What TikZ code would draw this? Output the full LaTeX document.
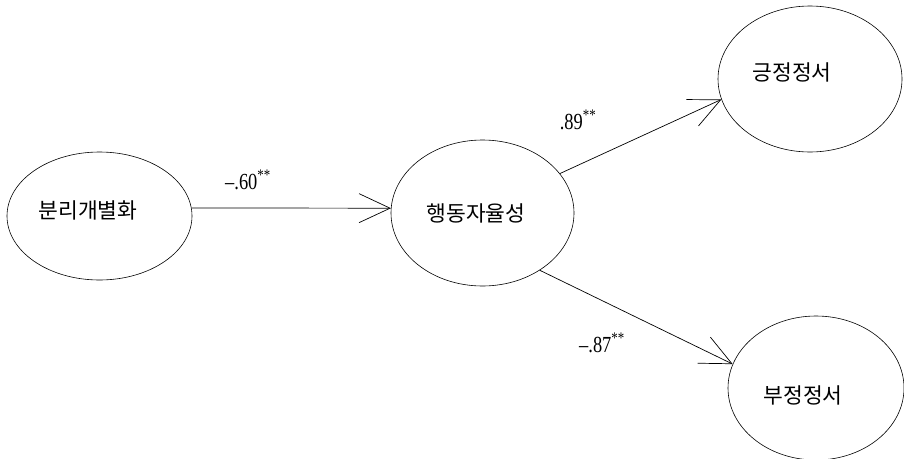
\documentclass[tikz,border=0pt]{standalone}
\usepackage{fontspec}
\setmainfont{Liberation Serif}
\newfontfamily\kfont{Noto Sans CJK KR}
\newfontfamily\numfont[FakeStretch=0.8]{Liberation Serif}
\usetikzlibrary{shapes.geometric,arrows.meta}

\begin{document}
\begin{tikzpicture}[x=1pt,y=-1pt,
  latent/.style={draw,ellipse,line width=0.6pt,inner sep=0pt},
  vartxt/.style={font=\kfont\fontsize{21.5}{24}\selectfont},
  effect/.style={line width=0.7pt,-{Straight Barb[length=31pt,width=29pt,line width=0.7pt]}},
  coef/.style={font=\numfont\fontsize{23}{26}\selectfont}]
\useasboundingbox (0,0) rectangle (904,458);
% latent variables
\node[latent,minimum width=185pt,minimum height=128pt] (sep) at (99.5,216) {};
\node[latent,minimum width=183pt,minimum height=146pt] (beh) at (482.5,213) {};
\node[latent,minimum width=184pt,minimum height=146pt] (pos) at (810,79) {};
\node[latent,minimum width=176pt,minimum height=144pt] (neg) at (816,388) {};
\node[vartxt] (septxt) at (88,210) {분리개별화};
\node[vartxt] (behtxt) at (476,213) {행동자율성};
\node[vartxt] (postxt) at (792,72) {긍정정서};
\node[vartxt] (negtxt) at (803,395) {부정정서};
% paths
\draw[effect] (sep.5) -- (beh.177);
\draw[effect] (beh.27) -- (pos.193);
\draw[effect] (beh.-45) -- (neg.164);
\node[coef] (c1) at (248,180) {–.60\textsuperscript{**}};
\node[coef] (c2) at (578,120) {.89\textsuperscript{**}};
\node[coef] (c3) at (602,343) {–.87\textsuperscript{**}};
\end{tikzpicture}
\end{document}
